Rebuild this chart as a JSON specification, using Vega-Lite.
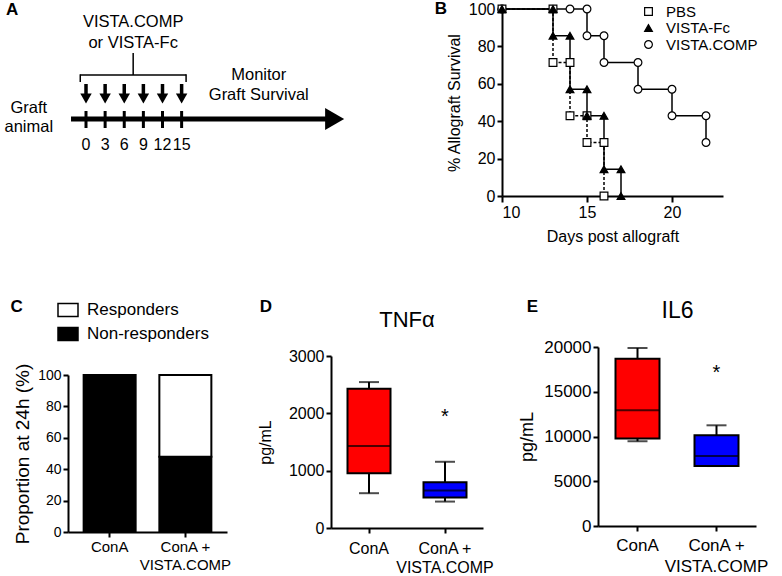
{
  "$schema": "https://vega.github.io/schema/vega-lite/v6.json",
  "width": 782,
  "height": 576,
  "autosize": {"type": "none"},
  "padding": 0,
  "background": "white",
  "config": {
    "view": {"stroke": null},
    "font": "Liberation Sans",
    "text": {"font": "Liberation Sans", "color": "black"},
    "axis": {"domainColor": "black", "domainWidth": 2, "tickColor": "black", "tickWidth": 2, "tickSize": 5, "labelColor": "black", "titleColor": "black", "titleFontWeight": "normal", "grid": false, "labelFont": "Liberation Sans", "titleFont": "Liberation Sans"}
  },
  "resolve": {
    "scale": {"x": "independent", "y": "independent", "fill": "independent", "shape": "independent", "stroke": "independent"},
    "axis": {"x": "independent", "y": "independent"},
    "legend": {"fill": "independent", "shape": "independent", "stroke": "independent"}
  },
  "layer": [
    {
      "data": {"values": [{"day": 0}, {"day": 3}, {"day": 6}, {"day": 9}, {"day": 12}, {"day": 15}]},
      "layer": [
        {"data": {"values": [{}]}, "mark": {"type": "rule", "strokeWidth": 5, "color": "black"},
         "encoding": {"x": {"datum": -2.35, "type": "quantitative", "scale": {"domain": [0, 15], "range": [86, 188]}, "axis": null}, "x2": {"datum": 38}, "y": {"datum": 0, "type": "quantitative", "scale": {"domain": [0, 100], "range": [119, 19]}, "axis": null}}},
        {"data": {"values": [{}]}, "mark": {"type": "point", "shape": "triangle-right", "size": 484, "filled": true, "color": "black", "opacity": 1},
         "encoding": {"x": {"datum": 39, "type": "quantitative", "axis": null}, "y": {"datum": 0, "type": "quantitative", "axis": null}}},
        {"mark": {"type": "rule", "strokeWidth": 3, "color": "black"},
         "encoding": {"x": {"field": "day", "type": "quantitative", "axis": null}, "y": {"datum": 8, "type": "quantitative", "axis": null}, "y2": {"datum": -9}}},
        {"mark": {"type": "text", "fontSize": 16, "baseline": "middle", "align": "center"},
         "encoding": {"x": {"field": "day", "type": "quantitative", "axis": null}, "y": {"datum": -26, "type": "quantitative", "axis": null}, "text": {"field": "day", "type": "quantitative"}}},
        {"mark": {"type": "rule", "strokeWidth": 3.5, "color": "black"},
         "encoding": {"x": {"field": "day", "type": "quantitative", "axis": null}, "y": {"datum": 35, "type": "quantitative", "axis": null}, "y2": {"datum": 24}}},
        {"mark": {"type": "point", "shape": "triangle-down", "size": 130, "filled": true, "color": "black", "opacity": 1},
         "encoding": {"x": {"field": "day", "type": "quantitative", "axis": null}, "y": {"datum": 20.5, "type": "quantitative", "axis": null}}},
        {"data": {"values": [{}]}, "mark": {"type": "rule", "strokeWidth": 1.5, "color": "black"},
         "encoding": {"x": {"datum": -0.9, "type": "quantitative", "axis": null}, "x2": {"datum": 15.7}, "y": {"datum": 44, "type": "quantitative", "axis": null}}},
        {"data": {"values": [{}]}, "mark": {"type": "rule", "strokeWidth": 1.5, "color": "black"},
         "encoding": {"x": {"datum": -0.9, "type": "quantitative", "axis": null}, "y": {"datum": 44.7, "type": "quantitative", "axis": null}, "y2": {"datum": 37}}},
        {"data": {"values": [{}]}, "mark": {"type": "rule", "strokeWidth": 1.5, "color": "black"},
         "encoding": {"x": {"datum": 15.7, "type": "quantitative", "axis": null}, "y": {"datum": 44.7, "type": "quantitative", "axis": null}, "y2": {"datum": 37}}},
        {"data": {"values": [{}]}, "mark": {"type": "rule", "strokeWidth": 1.5, "color": "black"},
         "encoding": {"x": {"datum": 7.4, "type": "quantitative", "axis": null}, "y": {"datum": 44, "type": "quantitative", "axis": null}, "y2": {"datum": 66}}},
        {"data": {"values": [{}]}, "mark": {"type": "text", "text": ["VISTA.COMP", "or VISTA-Fc"], "fontSize": 16.5, "lineHeight": 21, "baseline": "middle", "align": "center"},
         "encoding": {"x": {"datum": 7.4, "type": "quantitative", "axis": null}, "y": {"datum": 97, "type": "quantitative", "axis": null}}},
        {"data": {"values": [{}]}, "mark": {"type": "text", "text": ["Monitor", "Graft Survival"], "fontSize": 16.5, "lineHeight": 20, "baseline": "middle", "align": "center"},
         "encoding": {"x": {"datum": 27.1, "type": "quantitative", "axis": null}, "y": {"datum": 44, "type": "quantitative", "axis": null}}},
        {"data": {"values": [{}]}, "mark": {"type": "text", "text": ["Graft", "animal"], "fontSize": 16.5, "lineHeight": 19, "baseline": "middle", "align": "center"},
         "encoding": {"x": {"datum": -8.97, "type": "quantitative", "axis": null}, "y": {"datum": 11, "type": "quantitative", "axis": null}}},
        {"data": {"values": [{}]}, "mark": {"type": "text", "text": "A", "fontSize": 17, "fontWeight": "bold", "baseline": "middle", "align": "center"},
         "encoding": {"x": {"datum": -11.6, "type": "quantitative", "axis": null}, "y": {"datum": 109, "type": "quantitative", "axis": null}}}
      ]
    },
    {
      "data": {"values": [
        {"series": "VISTA.COMP", "i": 1, "day": 10, "surv": 100},
        {"series": "VISTA.COMP", "i": 2, "day": 14, "surv": 100},
        {"series": "VISTA.COMP", "i": 3, "day": 15, "surv": 100},
        {"series": "VISTA.COMP", "i": 4, "day": 15, "surv": 85.7},
        {"series": "VISTA.COMP", "i": 5, "day": 16, "surv": 85.7},
        {"series": "VISTA.COMP", "i": 6, "day": 16, "surv": 71.4},
        {"series": "VISTA.COMP", "i": 7, "day": 18, "surv": 71.4},
        {"series": "VISTA.COMP", "i": 8, "day": 18, "surv": 57.1},
        {"series": "VISTA.COMP", "i": 9, "day": 20, "surv": 57.1},
        {"series": "VISTA.COMP", "i": 10, "day": 20, "surv": 42.9},
        {"series": "VISTA.COMP", "i": 11, "day": 22, "surv": 42.9},
        {"series": "VISTA.COMP", "i": 12, "day": 22, "surv": 28.6},
        {"series": "PBS", "i": 1, "day": 10, "surv": 100},
        {"series": "PBS", "i": 2, "day": 13, "surv": 100},
        {"series": "PBS", "i": 3, "day": 13, "surv": 71.4},
        {"series": "PBS", "i": 4, "day": 14, "surv": 71.4},
        {"series": "PBS", "i": 5, "day": 14, "surv": 42.9},
        {"series": "PBS", "i": 6, "day": 15, "surv": 42.9},
        {"series": "PBS", "i": 7, "day": 15, "surv": 28.6},
        {"series": "PBS", "i": 8, "day": 16, "surv": 28.6},
        {"series": "PBS", "i": 9, "day": 16, "surv": 0},
        {"series": "VISTA-Fc", "i": 1, "day": 10, "surv": 100},
        {"series": "VISTA-Fc", "i": 2, "day": 13, "surv": 100},
        {"series": "VISTA-Fc", "i": 3, "day": 13, "surv": 85.7},
        {"series": "VISTA-Fc", "i": 4, "day": 14, "surv": 85.7},
        {"series": "VISTA-Fc", "i": 5, "day": 14, "surv": 57.1},
        {"series": "VISTA-Fc", "i": 6, "day": 15, "surv": 57.1},
        {"series": "VISTA-Fc", "i": 7, "day": 15, "surv": 42.9},
        {"series": "VISTA-Fc", "i": 8, "day": 16, "surv": 42.9},
        {"series": "VISTA-Fc", "i": 9, "day": 16, "surv": 14.3},
        {"series": "VISTA-Fc", "i": 10, "day": 17, "surv": 14.3},
        {"series": "VISTA-Fc", "i": 11, "day": 17, "surv": 0}
      ]},
      "layer": [
        {"transform": [{"filter": "datum.series == 'PBS'"}],
         "mark": {"type": "line", "color": "black", "strokeWidth": 1.5, "strokeDash": [3, 2]},
         "encoding": {
           "x": {"field": "day", "type": "quantitative", "scale": {"domain": [10, 23], "range": [502, 723]},
                 "axis": {"orient": "bottom", "offset": -380, "values": [10, 15, 20], "format": "d", "title": "Days post allograft", "titleFontSize": 16, "labelFontSize": 16, "titleY": 40, "titleBaseline": "middle", "labelPadding": 2, "tickSize": 6}},
           "y": {"field": "surv", "type": "quantitative", "scale": {"domain": [0, 100], "range": [196, 9]},
                 "axis": {"orient": "left", "offset": -502, "values": [0, 20, 40, 60, 80, 100], "format": "d", "title": "% Allograft Survival", "titleFontSize": 16, "labelFontSize": 16, "titleX": -48, "titleBaseline": "middle", "labelPadding": 2}},
           "order": {"field": "i", "type": "quantitative"}
         }},
        {"transform": [{"filter": "datum.series != 'PBS'"}],
         "mark": {"type": "line", "color": "black", "strokeWidth": 1.5},
         "encoding": {
           "x": {"field": "day", "type": "quantitative"},
           "y": {"field": "surv", "type": "quantitative"},
           "detail": {"field": "series", "type": "nominal"},
           "order": {"field": "i", "type": "quantitative"}
         }},
        {"mark": {"type": "point", "filled": true, "strokeWidth": 1.2, "size": 60, "opacity": 1},
         "encoding": {
           "x": {"field": "day", "type": "quantitative"},
           "y": {"field": "surv", "type": "quantitative"},
           "shape": {"field": "series", "type": "nominal", "scale": {"domain": ["PBS", "VISTA-Fc", "VISTA.COMP"], "range": ["square", "triangle-up", "circle"]},
                     "legend": {"title": null, "orient": "none", "legendX": 641, "legendY": 4, "labelFontSize": 15, "labelColor": "black", "symbolSize": 60, "symbolStrokeWidth": 1.2, "rowPadding": 0.5, "labelOffset": 10, "padding": 0}},
           "fill": {"field": "series", "type": "nominal", "scale": {"domain": ["PBS", "VISTA-Fc", "VISTA.COMP"], "range": ["white", "black", "white"]},
                    "legend": {"title": null, "orient": "none", "legendX": 641, "legendY": 4, "labelFontSize": 15, "labelColor": "black", "symbolSize": 60, "symbolStrokeWidth": 1.2, "rowPadding": 0.5, "labelOffset": 10, "padding": 0}},
           "stroke": {"field": "series", "type": "nominal", "scale": {"domain": ["PBS", "VISTA-Fc", "VISTA.COMP"], "range": ["black", "black", "black"]},
                      "legend": {"title": null, "orient": "none", "legendX": 641, "legendY": 4, "labelFontSize": 15, "labelColor": "black", "symbolSize": 60, "symbolStrokeWidth": 1.2, "rowPadding": 0.5, "labelOffset": 10, "padding": 0}}
         }},
        {"data": {"values": [{}]}, "mark": {"type": "text", "text": "B", "fontSize": 17, "fontWeight": "bold", "baseline": "middle", "align": "center"},
         "encoding": {"x": {"datum": 6.4, "type": "quantitative"}, "y": {"datum": 100, "type": "quantitative"}}}
      ]
    },
    {
      "data": {"values": [
        {"group": "ConA", "response": "Non-responders", "pct": 100},
        {"group": "ConA + VISTA.COMP", "response": "Non-responders", "pct": 48},
        {"group": "ConA + VISTA.COMP", "response": "Responders", "pct": 52}
      ]},
      "layer": [
        {"mark": {"type": "bar", "width": 52, "stroke": "black", "strokeWidth": 2},
         "encoding": {
           "x": {"field": "group", "type": "nominal", "sort": null, "scale": {"domain": ["ConA", "ConA + VISTA.COMP"], "range": [68, 227], "paddingInner": 0, "paddingOuter": 0.05},
                 "axis": {"orient": "bottom", "offset": -44, "title": null, "labelFontSize": 15, "labelAngle": 0, "labelExpr": "datum.label == 'ConA + VISTA.COMP' ? ['ConA +', 'VISTA.COMP'] : datum.label", "labelLineHeight": 18, "labelPadding": 2}},
           "y": {"field": "pct", "type": "quantitative", "stack": "zero", "scale": {"domain": [0, 100], "range": [532, 375]},
                 "axis": {"orient": "left", "offset": -68, "values": [0, 20, 40, 60, 80, 100], "format": "d", "title": "Proportion at 24h (%)", "titleFontSize": 19, "labelFontSize": 14, "titleX": -46, "titleBaseline": "middle", "labelPadding": 2}},
           "fill": {"field": "response", "type": "nominal", "scale": {"domain": ["Responders", "Non-responders"], "range": ["white", "black"]},
                    "legend": {"title": null, "orient": "none", "legendX": 57, "legendY": 299, "labelFontSize": 17, "labelColor": "black", "symbolType": "M-1,-0.65H1V0.65H-1Z", "symbolSize": 400, "symbolStrokeColor": "black", "symbolStrokeWidth": 1.5, "rowPadding": 3, "labelOffset": 8, "padding": 0}},
           "order": {"field": "response", "sort": "ascending"}
         }},
        {"data": {"values": [{}]}, "mark": {"type": "text", "text": "C", "fontSize": 17, "fontWeight": "bold", "baseline": "middle", "align": "center", "dx": -93},
         "encoding": {"x": {"datum": "ConA", "type": "nominal"}, "y": {"datum": 143.3, "type": "quantitative"}}}
      ]
    },
    {
      "data": {"values": [
        {"group": "ConA", "low": 607, "q1": 955, "median": 1430, "q3": 2430, "high": 2545},
        {"group": "ConA + VISTA.COMP", "low": 461, "q1": 530, "median": 652, "q3": 797, "high": 1155}
      ]},
      "layer": [
        {"mark": {"type": "rule", "color": "black", "strokeWidth": 2},
         "encoding": {
           "x": {"field": "group", "type": "nominal", "sort": null, "scale": {"domain": ["ConA", "ConA + VISTA.COMP"], "range": [331, 483], "paddingInner": 0, "paddingOuter": 0},
                 "axis": {"orient": "bottom", "offset": -48, "title": null, "labelFontSize": 16, "labelAngle": 0, "labelExpr": "datum.label == 'ConA + VISTA.COMP' ? ['ConA +', 'VISTA.COMP'] : datum.label", "labelLineHeight": 19, "labelPadding": 7}},
           "y": {"field": "low", "type": "quantitative", "scale": {"domain": [0, 3000], "range": [528, 356]},
                 "axis": {"orient": "left", "offset": -331, "values": [0, 1000, 2000, 3000], "format": "d", "title": "pg/mL", "titleFontSize": 16, "labelFontSize": 16, "titleX": -66, "titleBaseline": "middle", "labelPadding": 2}},
           "y2": {"field": "high"}
         }},
        {"mark": {"type": "tick", "color": "black", "size": 20, "thickness": 2},
         "encoding": {"x": {"field": "group", "type": "nominal"}, "y": {"field": "high", "type": "quantitative"}}},
        {"mark": {"type": "tick", "color": "black", "size": 20, "thickness": 2},
         "encoding": {"x": {"field": "group", "type": "nominal"}, "y": {"field": "low", "type": "quantitative"}}},
        {"mark": {"type": "bar", "width": 43, "stroke": "black", "strokeWidth": 2},
         "encoding": {"x": {"field": "group", "type": "nominal"}, "y": {"field": "q1", "type": "quantitative"}, "y2": {"field": "q3"},
                      "fill": {"field": "group", "type": "nominal", "scale": {"domain": ["ConA", "ConA + VISTA.COMP"], "range": ["#ff0000", "#0000ff"]}, "legend": null}}},
        {"mark": {"type": "tick", "color": "black", "size": 43, "thickness": 2},
         "encoding": {"x": {"field": "group", "type": "nominal"}, "y": {"field": "median", "type": "quantitative"}}},
        {"data": {"values": [{"group": "ConA + VISTA.COMP"}]}, "mark": {"type": "text", "text": "*", "fontSize": 20, "baseline": "middle", "align": "center"},
         "encoding": {"x": {"field": "group", "type": "nominal"}, "y": {"datum": 1930, "type": "quantitative"}}},
        {"data": {"values": [{}]}, "mark": {"type": "text", "text": "TNFα", "fontSize": 22, "baseline": "middle", "align": "center", "dx": 38},
         "encoding": {"x": {"datum": "ConA", "type": "nominal"}, "y": {"datum": 3628, "type": "quantitative"}}},
        {"data": {"values": [{}]}, "mark": {"type": "text", "text": "D", "fontSize": 17, "fontWeight": "bold", "baseline": "middle", "align": "center", "dx": -103},
         "encoding": {"x": {"datum": "ConA", "type": "nominal"}, "y": {"datum": 3855, "type": "quantitative"}}}
      ]
    },
    {
      "data": {"values": [
        {"group": "ConA", "low": 9470, "q1": 9770, "median": 12930, "q3": 18700, "high": 19890},
        {"group": "ConA + VISTA.COMP", "low": 6700, "q1": 6700, "median": 7820, "q3": 10130, "high": 11250}
      ]},
      "layer": [
        {"mark": {"type": "rule", "color": "black", "strokeWidth": 2},
         "encoding": {
           "x": {"field": "group", "type": "nominal", "sort": null, "scale": {"domain": ["ConA", "ConA + VISTA.COMP"], "range": [598, 756], "paddingInner": 0, "paddingOuter": 0},
                 "axis": {"orient": "bottom", "offset": -50, "title": null, "labelFontSize": 17, "labelAngle": 0, "labelExpr": "datum.label == 'ConA + VISTA.COMP' ? ['ConA +', 'VISTA.COMP'] : datum.label", "labelLineHeight": 21, "labelPadding": 6}},
           "y": {"field": "low", "type": "quantitative", "scale": {"domain": [0, 20000], "range": [526, 347]},
                 "axis": {"orient": "left", "offset": -598, "values": [0, 5000, 10000, 15000, 20000], "format": "d", "title": "pg/mL", "titleFontSize": 18, "labelFontSize": 17, "titleX": -71, "titleBaseline": "middle", "labelPadding": 2}},
           "y2": {"field": "high"}
         }},
        {"mark": {"type": "tick", "color": "black", "size": 20, "thickness": 2},
         "encoding": {"x": {"field": "group", "type": "nominal"}, "y": {"field": "high", "type": "quantitative"}}},
        {"mark": {"type": "tick", "color": "black", "size": 20, "thickness": 2},
         "encoding": {"x": {"field": "group", "type": "nominal"}, "y": {"field": "low", "type": "quantitative"}}},
        {"mark": {"type": "bar", "width": 44, "stroke": "black", "strokeWidth": 2},
         "encoding": {"x": {"field": "group", "type": "nominal"}, "y": {"field": "q1", "type": "quantitative"}, "y2": {"field": "q3"},
                      "fill": {"field": "group", "type": "nominal", "scale": {"domain": ["ConA", "ConA + VISTA.COMP"], "range": ["#ff0000", "#0000ff"]}, "legend": null}}},
        {"mark": {"type": "tick", "color": "black", "size": 44, "thickness": 2},
         "encoding": {"x": {"field": "group", "type": "nominal"}, "y": {"field": "median", "type": "quantitative"}}},
        {"data": {"values": [{"group": "ConA + VISTA.COMP"}]}, "mark": {"type": "text", "text": "*", "fontSize": 20, "baseline": "middle", "align": "center"},
         "encoding": {"x": {"field": "group", "type": "nominal"}, "y": {"datum": 17100, "type": "quantitative"}}},
        {"data": {"values": [{}]}, "mark": {"type": "text", "text": "IL6", "fontSize": 23, "baseline": "middle", "align": "center", "dx": 40},
         "encoding": {"x": {"datum": "ConA", "type": "nominal"}, "y": {"datum": 24022, "type": "quantitative"}}},
        {"data": {"values": [{}]}, "mark": {"type": "text", "text": "E", "fontSize": 17, "fontWeight": "bold", "baseline": "middle", "align": "center", "dx": -105},
         "encoding": {"x": {"datum": "ConA", "type": "nominal"}, "y": {"datum": 24470, "type": "quantitative"}}}
      ]
    }
  ]
}
